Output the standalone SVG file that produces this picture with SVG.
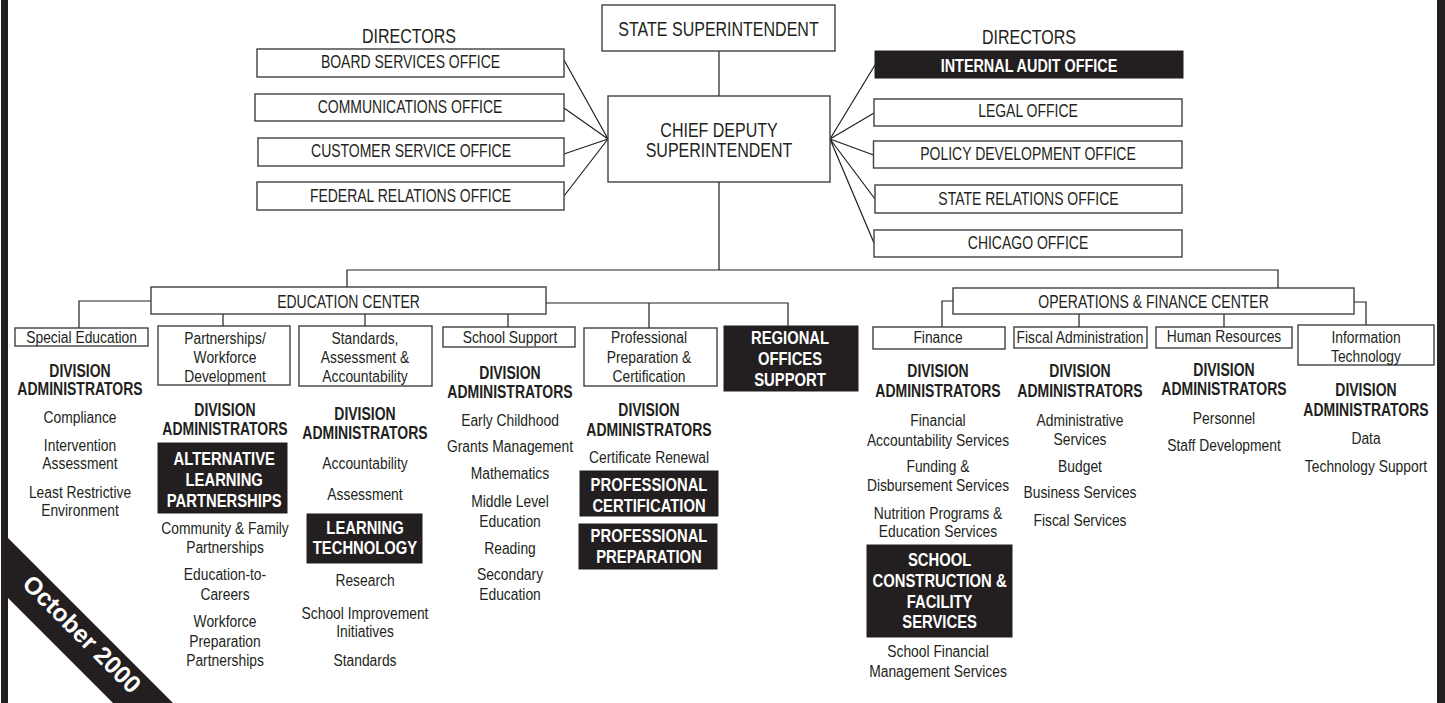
<svg xmlns="http://www.w3.org/2000/svg" width="1445" height="703" viewBox="0 0 1445 703">
<style>
text { font-family: "Liberation Sans", Arial, Helvetica, sans-serif; fill: #231f20; text-anchor: middle; }
.r { font-size: 17.3px; }
.b { font-size: 17.5px; font-weight: bold; }
.h { font-size: 18.5px; font-weight: bold; fill: #ffffff; }
.big { font-size: 20px; }
.off { font-size: 17.5px; }
.box { fill: #ffffff; stroke: #404040; stroke-width: 1.4; }
.blk { fill: #231f20; stroke: #231f20; stroke-width: 1; }
.ln { fill: none; stroke: #231f20; stroke-width: 1.2; }
.rib { font-size: 24.5px; font-weight: bold; fill: #ffffff; }
</style>
<rect width="1445" height="703" fill="#ffffff"/>
<g id="frame">
<rect x="1" y="0" width="7" height="703" fill="#231f20"/>
<rect x="1437" y="0" width="8" height="703" fill="#231f20"/>
<polygon points="8,538 173,703 113,703 8,598" fill="#231f20"/>
<text class="rib" transform="translate(82 634) rotate(45)" y="8.6">October 2000</text>
</g>
<g id="connectors" class="ln">
<path d="M719 51V96M719 182V270M347 287V270H1278V288"/>
<path d="M564 60L608 139M564 108L608 139M564 154L608 139M564 196L608 139"/>
<path d="M830 139L875 65M830 139L874 113M830 139L873.5 155M830 139L875 199M830 139L874 243"/>
<path d="M151 301H79V328M223 314V326M365 314V326M508 314V327M546 303H788V326M649 303V328"/>
<path d="M953 301H942V327M1079 314V327M1224 314V327M1354 302H1366V325"/>
</g>
<g id="state-superintendent">
<rect class="box" x="602" y="5" width="233" height="46"/>
<text class="big" transform="translate(718.5 36) scale(.8 1)">STATE SUPERINTENDENT</text>
</g>
<g id="chief-deputy">
<rect class="box" x="608" y="96" width="222" height="86"/>
<g transform="translate(719 0) scale(.8 1)">
<text class="big" y="137">CHIEF DEPUTY</text>
<text class="big" y="157">SUPERINTENDENT</text>
</g>
</g>
<g id="directors-left">
<text class="big" transform="translate(409 43) scale(.8 1)">DIRECTORS</text>
</g>
<g id="board-services">
<rect class="box" x="257" y="49" width="307" height="28"/>
<text class="off" transform="translate(410.5 68) scale(.8 1)">BOARD SERVICES OFFICE</text>
</g>
<g id="communications">
<rect class="box" x="255" y="94" width="309" height="27"/>
<text class="off" transform="translate(410 113) scale(.8 1)">COMMUNICATIONS OFFICE</text>
</g>
<g id="customer-service">
<rect class="box" x="258" y="138" width="306" height="28"/>
<text class="off" transform="translate(411 157) scale(.8 1)">CUSTOMER SERVICE OFFICE</text>
</g>
<g id="federal-relations">
<rect class="box" x="257" y="182" width="307" height="28"/>
<text class="off" transform="translate(410.5 202) scale(.8 1)">FEDERAL RELATIONS OFFICE</text>
</g>
<g id="directors-right">
<text class="big" transform="translate(1029 44) scale(.8 1)">DIRECTORS</text>
</g>
<g id="internal-audit">
<rect class="blk" x="875" y="51" width="308" height="27"/>
<text class="h" style="font-size:18px" transform="translate(1029 72) scale(.8 1)">INTERNAL AUDIT OFFICE</text>
</g>
<g id="legal">
<rect class="box" x="874" y="99" width="308" height="27"/>
<text class="off" transform="translate(1028 117) scale(.8 1)">LEGAL OFFICE</text>
</g>
<g id="policy-development">
<rect class="box" x="873.5" y="141" width="308.5" height="27"/>
<text class="off" transform="translate(1028 160) scale(.8 1)">POLICY DEVELOPMENT OFFICE</text>
</g>
<g id="state-relations">
<rect class="box" x="875" y="185" width="307" height="28"/>
<text class="off" transform="translate(1028.5 205) scale(.8 1)">STATE RELATIONS OFFICE</text>
</g>
<g id="chicago">
<rect class="box" x="874" y="230" width="308" height="27"/>
<text class="off" transform="translate(1028 249) scale(.8 1)">CHICAGO OFFICE</text>
</g>
<g id="education-center">
<rect class="box" x="151" y="287" width="395" height="27"/>
<text class="off" transform="translate(348.5 308) scale(.8 1)">EDUCATION CENTER</text>
</g>
<g id="operations-finance-center">
<rect class="box" x="953" y="288" width="401" height="26"/>
<text class="off" transform="translate(1153.5 308) scale(.8 1)">OPERATIONS &amp; FINANCE CENTER</text>
</g>
<g id="special-education">
<rect class="box" x="15" y="328" width="133" height="18"/>
<g transform="translate(80 0) scale(.8 1)">
<text class="r" x="2" y="343">Special Education</text>
<text class="b" y="377">DIVISION</text>
<text class="b" y="395">ADMINISTRATORS</text>
<text class="r" y="423">Compliance</text>
<text class="r" y="451">Intervention</text>
<text class="r" y="469">Assessment</text>
<text class="r" y="498">Least Restrictive</text>
<text class="r" y="516">Environment</text>
</g>
</g>
<g id="partnerships-workforce">
<rect class="box" x="158" y="326" width="132" height="59"/>
<rect class="blk" x="158" y="443" width="129" height="70"/>
<g transform="translate(225 0) scale(.8 1)">
<text class="r" y="344">Partnerships/</text>
<text class="r" y="363">Workforce</text>
<text class="r" y="382">Development</text>
<text class="b" y="416">DIVISION</text>
<text class="b" y="435">ADMINISTRATORS</text>
<text class="h" x="-1" y="465">ALTERNATIVE</text>
<text class="h" x="-1" y="486">LEARNING</text>
<text class="h" x="-1" y="507">PARTNERSHIPS</text>
<text class="r" y="534">Community &amp; Family</text>
<text class="r" y="553">Partnerships</text>
<text class="r" y="580">Education-to-</text>
<text class="r" y="600">Careers</text>
<text class="r" y="627">Workforce</text>
<text class="r" y="647">Preparation</text>
<text class="r" y="666">Partnerships</text>
</g>
</g>
<g id="standards-assessment">
<rect class="box" x="299" y="326" width="133" height="60"/>
<rect class="blk" x="307" y="514" width="115" height="49"/>
<g transform="translate(365 0) scale(.8 1)">
<text class="r" y="344">Standards,</text>
<text class="r" y="363">Assessment &amp;</text>
<text class="r" y="382">Accountability</text>
<text class="b" y="420">DIVISION</text>
<text class="b" y="439">ADMINISTRATORS</text>
<text class="r" y="469">Accountability</text>
<text class="r" y="500">Assessment</text>
<text class="h" y="534">LEARNING</text>
<text class="h" y="554">TECHNOLOGY</text>
<text class="r" y="586">Research</text>
<text class="r" y="619">School Improvement</text>
<text class="r" y="637">Initiatives</text>
<text class="r" y="666">Standards</text>
</g>
</g>
<g id="school-support">
<rect class="box" x="443" y="327" width="132" height="20"/>
<g transform="translate(510 0) scale(.8 1)">
<text class="r" y="343">School Support</text>
<text class="b" y="379">DIVISION</text>
<text class="b" y="398">ADMINISTRATORS</text>
<text class="r" y="426">Early Childhood</text>
<text class="r" y="452">Grants Management</text>
<text class="r" y="479">Mathematics</text>
<text class="r" y="507">Middle Level</text>
<text class="r" y="527">Education</text>
<text class="r" y="554">Reading</text>
<text class="r" y="580">Secondary</text>
<text class="r" y="600">Education</text>
</g>
</g>
<g id="professional-preparation">
<rect class="box" x="584" y="328" width="133" height="58"/>
<rect class="blk" x="580" y="471" width="138" height="45"/>
<rect class="blk" x="579" y="524" width="138" height="45"/>
<g transform="translate(649 0) scale(.8 1)">
<text class="r" y="343">Professional</text>
<text class="r" y="363">Preparation &amp;</text>
<text class="r" y="382">Certification</text>
<text class="b" y="416">DIVISION</text>
<text class="b" y="436">ADMINISTRATORS</text>
<text class="r" y="463">Certificate Renewal</text>
<text class="h" y="491">PROFESSIONAL</text>
<text class="h" y="512">CERTIFICATION</text>
<text class="h" y="542">PROFESSIONAL</text>
<text class="h" y="563">PREPARATION</text>
</g>
</g>
<g id="regional-offices">
<rect class="blk" x="724" y="326" width="134" height="65"/>
<g transform="translate(790 0) scale(.8 1)">
<text class="h" y="344">REGIONAL</text>
<text class="h" y="365">OFFICES</text>
<text class="h" y="386">SUPPORT</text>
</g>
</g>
<g id="finance">
<rect class="box" x="873" y="327" width="132" height="22"/>
<rect class="blk" x="867" y="545" width="145" height="92"/>
<g transform="translate(938 0) scale(.8 1)">
<text class="r" y="343">Finance</text>
<text class="b" y="377">DIVISION</text>
<text class="b" y="397">ADMINISTRATORS</text>
<text class="r" y="426">Financial</text>
<text class="r" y="446">Accountability Services</text>
<text class="r" y="472">Funding &amp;</text>
<text class="r" y="491">Disbursement Services</text>
<text class="r" y="519">Nutrition Programs &amp;</text>
<text class="r" y="537">Education Services</text>
<text class="h" x="2" y="566">SCHOOL</text>
<text class="h" x="2" y="587">CONSTRUCTION &amp;</text>
<text class="h" x="2" y="608">FACILITY</text>
<text class="h" x="2" y="628">SERVICES</text>
<text class="r" y="657">School Financial</text>
<text class="r" y="677">Management Services</text>
</g>
</g>
<g id="fiscal-administration">
<rect class="box" x="1014" y="327" width="133" height="21"/>
<g transform="translate(1080 0) scale(.8 1)">
<text class="r" y="343">Fiscal Administration</text>
<text class="b" y="377">DIVISION</text>
<text class="b" y="397">ADMINISTRATORS</text>
<text class="r" y="426">Administrative</text>
<text class="r" y="445">Services</text>
<text class="r" y="472">Budget</text>
<text class="r" y="498">Business Services</text>
<text class="r" y="526">Fiscal Services</text>
</g>
</g>
<g id="human-resources">
<rect class="box" x="1156" y="327" width="136" height="21"/>
<g transform="translate(1224 0) scale(.8 1)">
<text class="r" y="342">Human Resources</text>
<text class="b" y="376">DIVISION</text>
<text class="b" y="395">ADMINISTRATORS</text>
<text class="r" y="424">Personnel</text>
<text class="r" y="451">Staff Development</text>
</g>
</g>
<g id="information-technology">
<rect class="box" x="1298" y="325" width="136" height="40"/>
<g transform="translate(1366 0) scale(.8 1)">
<text class="r" y="343">Information</text>
<text class="r" y="362">Technology</text>
<text class="b" y="396">DIVISION</text>
<text class="b" y="416">ADMINISTRATORS</text>
<text class="r" y="444">Data</text>
<text class="r" y="472">Technology Support</text>
</g>
</g>
</svg>
